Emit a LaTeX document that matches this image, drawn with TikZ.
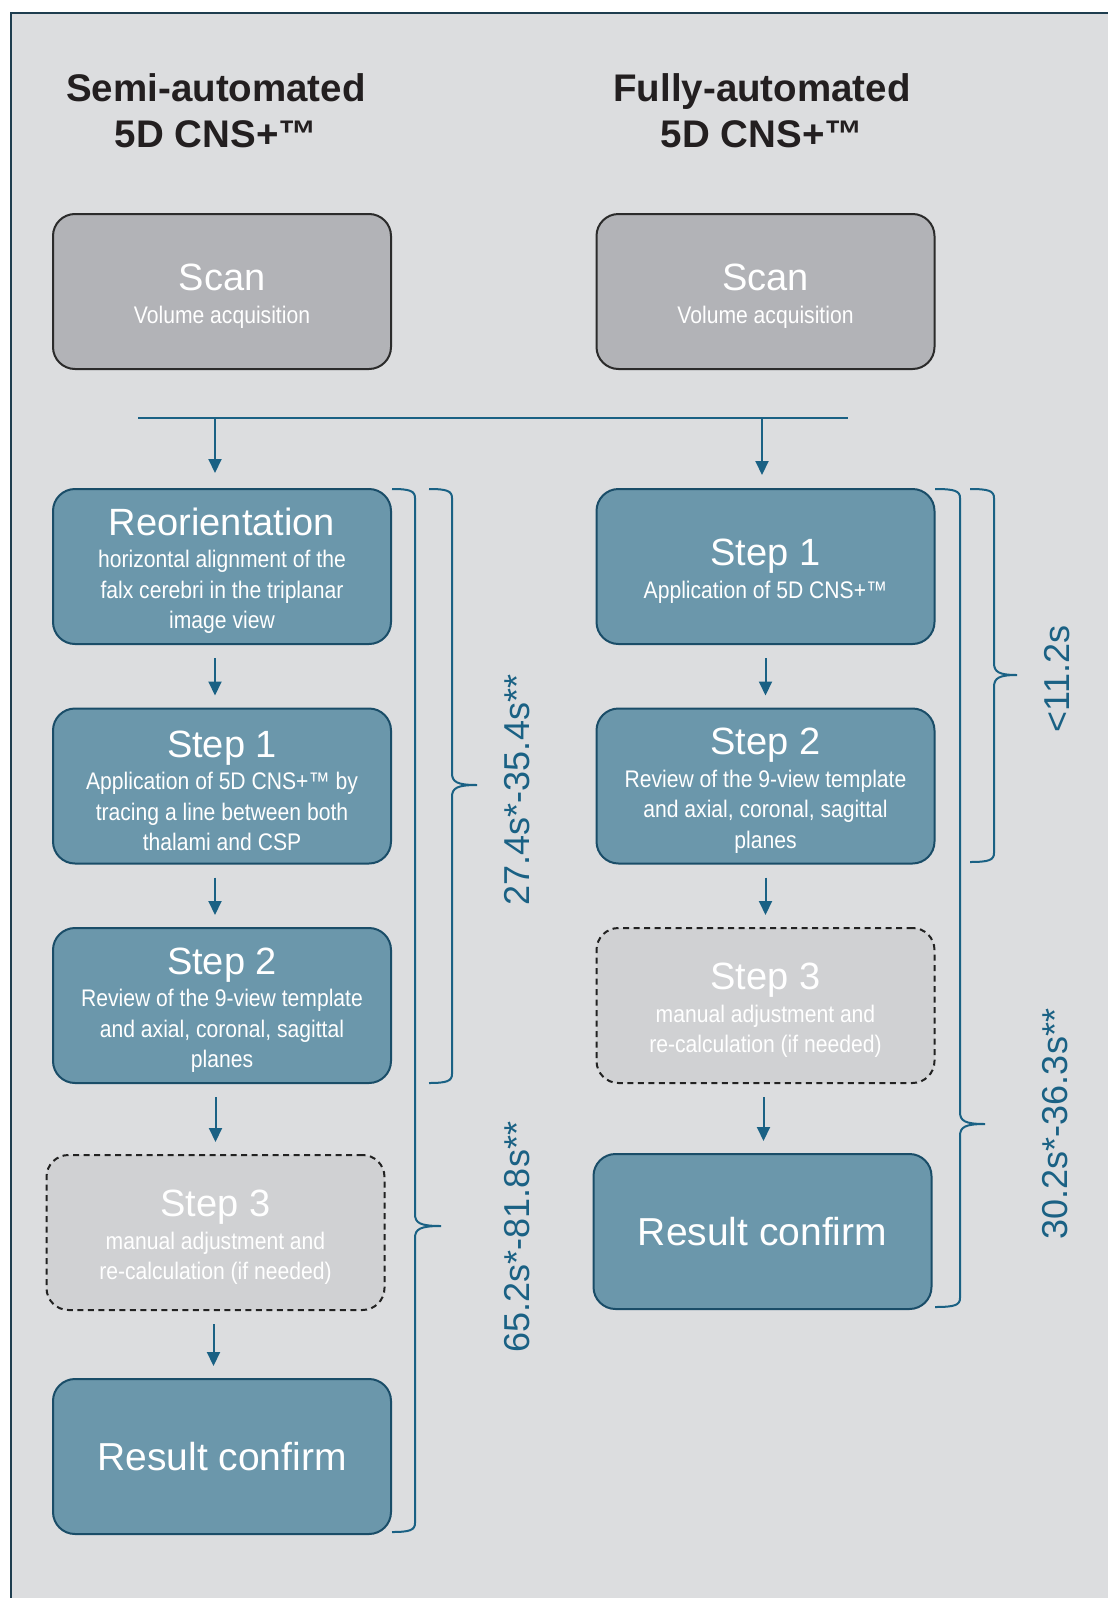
\documentclass[tikz,border=0pt]{standalone}
\usepackage{fontspec}
\setmainfont{Liberation Sans}
\newfontfamily\narrowfont[FakeStretch=0.88]{Liberation Sans}
\usepackage{xcolor}
\usetikzlibrary{arrows.meta}

\definecolor{panelbg}{HTML}{DCDDDF}
\definecolor{frame}{HTML}{1E3D4F}
\definecolor{scanfill}{HTML}{B2B3B7}
\definecolor{scanedge}{HTML}{2B2B2B}
\definecolor{stepfill}{HTML}{6B97AB}
\definecolor{stepedge}{HTML}{1A4D68}
\definecolor{optfill}{HTML}{D0D1D3}
\definecolor{optedge}{HTML}{222222}
\definecolor{accent}{HTML}{1A6184}
\definecolor{titletext}{HTML}{231F20}

\newcommand{\stepfont}{\normalfont\fontsize{38}{40}\selectfont\rule{0pt}{36pt}}
% x0, stem x, tip x, top y, tip y, bottom y
\newcommand{\timebrace}[6]{%
  \draw[braceline] (#1,#4) .. controls (#2-5,#4) and (#2,#4+2) .. (#2,#4+9)
    -- (#2,#5-12) .. controls (#2,#5-3) and (#2+5,#5) .. (#3,#5)
    (#3,#5) .. controls (#2+5,#5) and (#2,#5+3) .. (#2,#5+12)
    -- (#2,#6-9) .. controls (#2,#6-2) and (#2-5,#6) .. (#1,#6);}

\begin{document}
\begin{tikzpicture}[x=1pt, y=-1pt]
    \tikzstyle{box} = [rectangle, rounded corners=22pt, minimum width=338pt,
    minimum height=155pt, inner sep=0pt, align=center, text=white,
    line width=2pt]
    \tikzstyle{scanbox} = [box, draw=scanedge, fill=scanfill,
    font=\narrowfont\fontsize{24}{30.5}\selectfont]
    \tikzstyle{stepbox} = [box, draw=stepedge, fill=stepfill,
    font=\narrowfont\fontsize{24}{30.5}\selectfont]
    \tikzstyle{optbox} = [box, draw=optedge, fill=optfill,
    dash pattern=on 6pt off 4.5pt,
    font=\narrowfont\fontsize{24}{30.5}\selectfont]
    \tikzstyle{line} = [draw=accent, line width=2pt,
    -{Triangle[width=13pt,length=14pt]}, shorten <=13pt, shorten >=12pt]
    \tikzstyle{headline} = [font=\bfseries\fontsize{38.5}{46}\selectfont,
    text=titletext, align=center, anchor=north, inner sep=0pt]
    \tikzstyle{timelabel} = [font=\fontsize{36}{40}\selectfont, text=accent,
    rotate=90, inner sep=0pt]
    \tikzstyle{braceline} = [draw=accent, line width=2pt, line join=round]

    % Panel
    \useasboundingbox (0,0) rectangle (1108,1598);
    \fill[white] (0,0) rectangle (1108,1598);
    \draw[draw=frame, line width=1.5pt, fill=panelbg] (11,13) rectangle (1130,1620);

    % Column heads
    \node[headline] (semi) at (216,73) {Semi-automated\\5D CNS+™};
    \node[headline] (fully) at (762,73) {Fully-automated\\5D CNS+™};

    % Scan
    \node[scanbox] (scanL) at (222,291.5) {{\stepfont Scan}\\[2pt] Volume acquisition};
    \node[scanbox] (scanR) at (765.5,291.5) {{\stepfont Scan}\\[2pt] Volume acquisition};

    % Semi-automated column
    \node[stepbox] (reo) at (222,566.5) {{\stepfont Reorientation}\\[2pt]
      horizontal alignment of the\\ falx cerebri in the triplanar\\ image view};
    \node[stepbox] (s1L) at (222,786) {{\stepfont Step 1}\\[2pt]
      Application of 5D CNS+™ by\\ tracing a line between both\\ thalami and CSP};
    \node[stepbox] (s2L) at (222,1005.5) {{\stepfont Step 2}\\[2pt]
      Review of the 9-view template\\ and axial, coronal, sagittal\\ planes};
    \node[optbox] (s3L) at (215.5,1232.5) {{\stepfont Step 3}\\[2pt]
      manual adjustment and\\ re-calculation (if needed)};
    \node[stepbox, font=\normalfont\fontsize{39}{42}\selectfont] (resL) at (222,1456.5) {Result confirm};

    % Fully-automated column
    \node[stepbox] (s1R) at (765.5,566.5) {{\stepfont Step 1}\\[2pt]
      Application of 5D CNS+™};
    \node[stepbox] (s2R) at (765.5,786) {{\stepfont Step 2}\\[2pt]
      Review of the 9-view template\\ and axial, coronal, sagittal\\ planes};
    \node[optbox] (s3R) at (765.5,1005.5) {{\stepfont Step 3}\\[2pt]
      manual adjustment and\\ re-calculation (if needed)};
    \node[stepbox, font=\normalfont\fontsize{39}{42}\selectfont] (resR) at (762.5,1231.5) {Result confirm};

    % Split line
    \coordinate (busW) at (138,418);
    \coordinate (busE) at (848,418);
    \coordinate (tapL) at (215,418);
    \coordinate (tapR) at (762,418);
    \draw[draw=accent, line width=2pt] (busW) -- (busE);
    \draw[line, shorten <=0pt, shorten >=15pt] (tapL) -- (tapL |- reo.north);
    \draw[line, shorten <=0pt, shorten >=13pt] (tapR) -- (tapR |- s1R.north);

    % Arrows
    \draw[line] ([xshift=-7pt]reo.south) -- ([xshift=-7pt]s1L.north);
    \draw[line] ([xshift=-7pt]s1L.south) -- ([xshift=-7pt]s2L.north);
    \draw[line] (s3L.north |- s2L.south) -- (s3L.north);
    \draw[line] ([xshift=-2pt]s3L.south) -- ([xshift=-2pt]s3L.south |- resL.north);
    \draw[line] (s1R.south) -- (s2R.north);
    \draw[line] (s2R.south) -- (s3R.north);
    \draw[line] ([xshift=-2pt]s3R.south) -- ([xshift=-2pt]s3R.south |- resR.north);

    % Time braces
    \timebrace{429}{452}{477}{489}{785}{1083}
    \timebrace{392}{415}{441}{489}{1226}{1532}
    \timebrace{970}{994}{1017}{489}{675}{862}
    \timebrace{935}{960}{985}{489}{1124}{1307}

    \node[timelabel] (tSemiA) at (517,790) {27.4s*-35.4s**};
    \node[timelabel] (tSemiB) at (517,1237) {65.2s*-81.8s**};
    \node[timelabel] (tFullA) at (1057,679) {<11.2s};
    \node[timelabel] (tFullB) at (1055,1124) {30.2s*-36.3s**};

  \end{tikzpicture}
\end{document}
